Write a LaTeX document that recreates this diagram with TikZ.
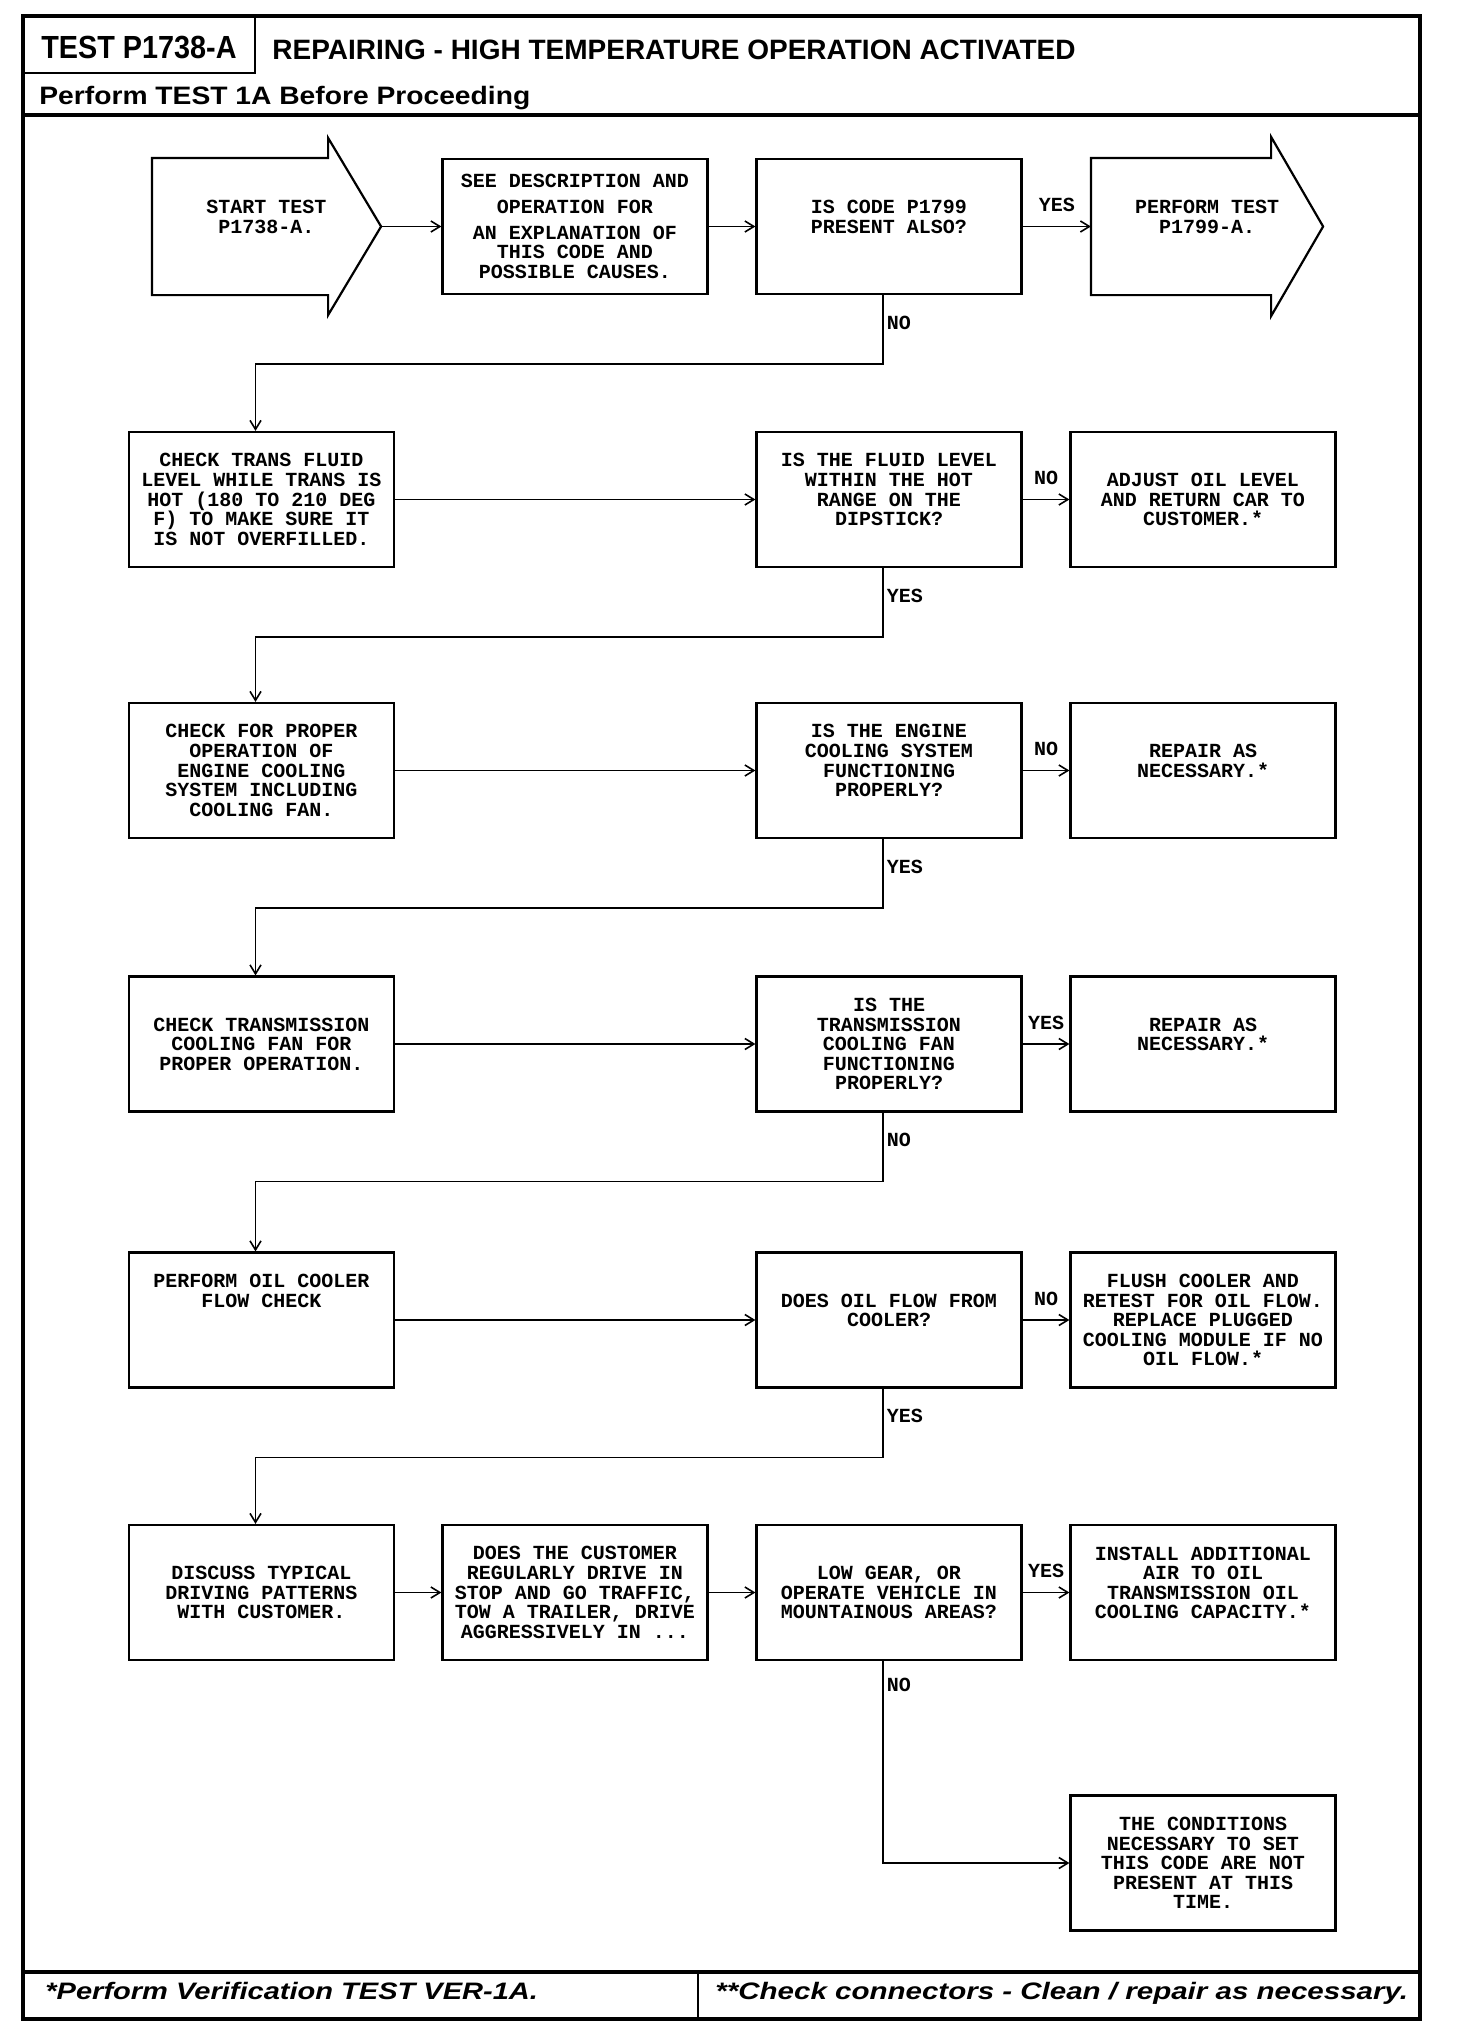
\documentclass[tikz,border=0pt]{standalone}
\usepackage{fontspec}
\usepackage{graphicx}
\usetikzlibrary{arrows.meta}
\newfontfamily\chartmono{Liberation Mono}
\newfontfamily\chartsans{Liberation Sans}

\begin{document}
\begin{tikzpicture}[x=0.5pt,y=-0.5pt,
		box/.style={draw,line width=1.1pt,minimum width=132.5pt,minimum height=67.5pt,inner sep=1pt,align=center,font=\chartmono\bfseries\fontsize{10}{9.8}\selectfont},
		shaft/.style={box,draw=none},
		arr/.style={line width=0.8pt,-{Straight Barb[length=4.5pt,width=5.5pt]}},
		lbl/.style={inner sep=1.5pt,font=\chartmono\bfseries\fontsize{10}{9.8}\selectfont}]
		\useasboundingbox (0,0) rectangle (1456,2034);

		% frame and headings
		\draw[line width=2pt] (23,16) rectangle (1420,2019);
		\draw[line width=2pt] (23,115) -- (1420,115);
		\draw[line width=2pt] (23,1972) -- (1420,1972);
		\draw[line width=1.2pt] (23,73) -| (255,16);
		\draw[line width=1.2pt] (698,1972) -- (698,2019);

		\node[anchor=base,inner sep=0,font=\chartsans\bfseries\fontsize{16}{19}\selectfont] (tst) at (139,58) {\scalebox{0.9}[1]{TEST P1738-A}};
		\node[anchor=base west,inner sep=0,font=\chartsans\bfseries\fontsize{14}{16}\selectfont] (ttl) at (272,59) {REPAIRING - HIGH TEMPERATURE OPERATION ACTIVATED};
		\node[anchor=base west,inner sep=0,font=\chartsans\bfseries\fontsize{12.6}{15}\selectfont] (pre) at (39,104) {\scalebox{1.12}[1]{Perform TEST 1A Before Proceeding}};
		\node[anchor=base west,inner sep=0,font=\chartsans\bfseries\itshape\fontsize{11.9}{14}\selectfont] (fa) at (45,1999) {\scalebox{1.22}[1]{*Perform Verification TEST VER-1A.}};
		\node[anchor=base west,inner sep=0,font=\chartsans\bfseries\itshape\fontsize{11.9}{14}\selectfont] (fb) at (715,1999) {\scalebox{1.24}[1]{**Check connectors - Clean / repair as necessary.}};

		% row 1
		\node[shaft,minimum width=113.5pt] (st) at (266.5,226.5) {START TEST\\P1738-A.\\\mbox{}};
		\draw[line width=1.1pt] (st.north west) -- ([xshift=-26.5pt]st.north east) -- ++(0,-20) -- (st.east) -- ([xshift=-26.5pt,yshift=-10pt]st.south east) -- ([xshift=-26.5pt]st.south east) -- (st.south west) -- cycle;
		\node[box] (see) at (575,226.5) {SEE DESCRIPTION AND\\[3pt]OPERATION FOR\\[3pt]AN EXPLANATION OF\\THIS CODE AND\\POSSIBLE CAUSES.};
		\node[box] (c1) at (889,226.5) {IS CODE P1799\\PRESENT ALSO?\\\mbox{}};
		\node[shaft,minimum width=115pt] (perf) at (1207,226.5) {PERFORM TEST\\P1799-A.\\\mbox{}};
		\draw[line width=1.1pt] (perf.north west) -- ([xshift=-26pt]perf.north east) -- ++(0,-21) -- (perf.east) -- ([xshift=-26pt,yshift=-10.5pt]perf.south east) -- ([xshift=-26pt]perf.south east) -- (perf.south west) -- cycle;

		% rows 2 to 7
		\node[box] (a2) at (261.5,499.5) {CHECK TRANS FLUID\\LEVEL WHILE TRANS IS\\HOT (180 TO 210 DEG\\F) TO MAKE SURE IT\\IS NOT OVERFILLED.};
		\node[box] (c2) at (889,499.5) {IS THE FLUID LEVEL\\WITHIN THE HOT\\RANGE ON THE\\DIPSTICK?\\\mbox{}};
		\node[box] (d2) at (1203,499.5) {ADJUST OIL LEVEL\\AND RETURN CAR TO\\CUSTOMER.*};

		\node[box] (a3) at (261.5,770.5) {CHECK FOR PROPER\\OPERATION OF\\ENGINE COOLING\\SYSTEM INCLUDING\\COOLING FAN.};
		\node[box] (c3) at (889,770.5) {IS THE ENGINE\\COOLING SYSTEM\\FUNCTIONING\\PROPERLY?\\\mbox{}};
		\node[box] (d3) at (1203,770.5) {REPAIR AS\\NECESSARY.*\\\mbox{}};

		\node[box] (a4) at (261.5,1044) {CHECK TRANSMISSION\\COOLING FAN FOR\\PROPER OPERATION.};
		\node[box] (c4) at (889,1044) {IS THE\\TRANSMISSION\\COOLING FAN\\FUNCTIONING\\PROPERLY?};
		\node[box] (d4) at (1203,1044) {REPAIR AS\\NECESSARY.*\\\mbox{}};

		\node[box] (a5) at (261.5,1320) {PERFORM OIL COOLER\\FLOW CHECK\\\mbox{}\\\mbox{}\\\mbox{}};
		\node[box] (c5) at (889,1320) {DOES OIL FLOW FROM\\COOLER?\\\mbox{}};
		\node[box] (d5) at (1203,1320) {FLUSH COOLER AND\\RETEST FOR OIL FLOW.\\REPLACE PLUGGED\\COOLING MODULE IF NO\\OIL FLOW.*};

		\node[box] (a6) at (261.5,1592.5) {DISCUSS TYPICAL\\DRIVING PATTERNS\\WITH CUSTOMER.};
		\node[box] (b6) at (575,1592.5) {DOES THE CUSTOMER\\REGULARLY DRIVE IN\\STOP AND GO TRAFFIC,\\TOW A TRAILER, DRIVE\\AGGRESSIVELY IN ...};
		\node[box] (c6) at (889,1592.5) {LOW GEAR, OR\\OPERATE VEHICLE IN\\MOUNTAINOUS AREAS?};
		\node[box] (d6) at (1203,1592.5) {INSTALL ADDITIONAL\\AIR TO OIL\\TRANSMISSION OIL\\COOLING CAPACITY.*\\\mbox{}};

		\node[box] (d7) at (1203,1863) {THE CONDITIONS\\NECESSARY TO SET\\THIS CODE ARE NOT\\PRESENT AT THIS\\TIME.};

		% connectors
		\draw[arr] (st.east) -- (see.west);
		\draw[arr] (see.east) -- (c1.west);
		\draw[arr] (c1.east) -- node[lbl,above=5.5pt] (l1) {YES} (perf.west);

		\foreach \r in {2,...,5} {\draw[arr] (a\r.east) -- (c\r.west);}
		\draw[arr] (a6.east) -- (b6.west);
		\draw[arr] (b6.east) -- (c6.west);

		\foreach \r/\lab in {2/NO,3/NO,4/YES,5/NO,6/YES}
			{\draw[arr] (c\r.east) -- node[lbl,above=5.5pt] (h\r) {\lab} (d\r.west);}

		\foreach \r/\n/\lab in {1/2/NO,2/3/YES,3/4/YES,4/5/NO,5/6/YES}
			{\draw[arr] ([xshift=-3pt]c\r.south) -- node[lbl,right,pos=0.4] (v\r) {\lab} ++(0,69) -| ([xshift=-3pt]a\n.north);}

		\draw[arr] ([xshift=-3pt]c6.south) |- node[lbl,right,pos=0.06] (v6) {NO} (d7.west);
\end{tikzpicture}
\end{document}
